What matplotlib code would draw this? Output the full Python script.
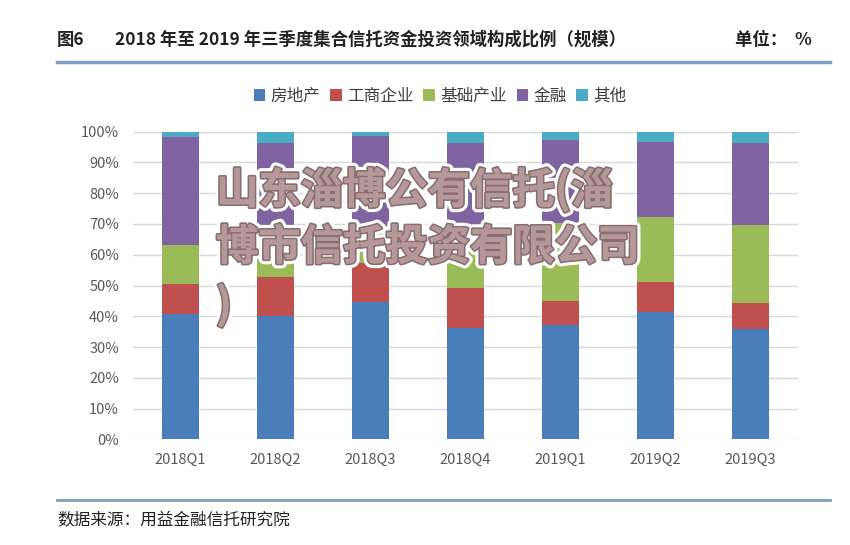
import matplotlib.pyplot as plt
import matplotlib.patheffects as pe
import numpy as np

plt.rcParams['font.family'] = ['Noto Sans CJK SC', 'DejaVu Sans']

quarters = ['2018Q1', '2018Q2', '2018Q3', '2018Q4', '2019Q1', '2019Q2', '2019Q3']
fangdichan = [40.6, 40.2, 44.7, 36.1, 37.2, 41.5, 35.8]
gongshang = [9.8, 12.7, 12.5, 13.2, 7.8, 9.5, 8.4]
jichu = [12.8, 9.4, 12.2, 18.2, 25.4, 21.4, 25.5]
jinrong = [35.2, 33.9, 29.2, 28.7, 26.9, 24.4, 26.7]
qita = [1.6, 3.8, 1.4, 3.8, 2.7, 3.2, 3.6]

series = [('房地产', fangdichan, '#4a7ebb'),
          ('工商企业', gongshang, '#c0504d'),
          ('基础产业', jichu, '#9bbb59'),
          ('金融', jinrong, '#8064a2'),
          ('其他', qita, '#4bacc6')]

W, H = 850, 545
fig = plt.figure(figsize=(8.5, 5.45), dpi=100)
ax = fig.add_axes([133 / W, (H - 439.3) / H, (798 - 133) / W, (439.3 - 131.7) / H])

x = np.arange(len(quarters))
bottom = np.zeros(len(quarters))
for name, vals, col in series:
    ax.bar(x, vals, 0.39, bottom=bottom, color=col, label=name, zorder=3)
    bottom += np.array(vals)

ax.set_xlim(-0.5, len(quarters) - 0.5)
ax.set_ylim(0, 100)
ax.set_yticks(np.arange(0, 101, 10))
ax.set_yticklabels([f'{v}%' for v in range(0, 101, 10)])
ax.set_xticks(x)
ax.set_xticklabels(quarters)
ax.tick_params(axis='both', length=0, colors='#595959', labelsize=10.5)
ax.tick_params(axis='x', pad=10)
ax.tick_params(axis='y', pad=10)
ax.grid(axis='y', color='#d9d9d9', linewidth=1, zorder=0)
for s in ax.spines.values():
    s.set_visible(False)

leg = fig.legend(loc='center', bbox_to_anchor=(440 / W, 1 - 96 / H), ncol=5, frameon=False,
                 handlelength=0.7, handleheight=0.7, handletextpad=0.3, columnspacing=0.6,
                 prop={'size': 12})
for t in leg.get_texts():
    t.set_color('#404040')

# header and footer
fig.text(57 / W, 1 - 40 / H, '图6', fontsize=12.5, fontweight='bold', va='center', color='#222222')
fig.text(115 / W, 1 - 40 / H, '2018 年至 2019 年三季度集合信托资金投资领域构成比例（规模）',
         fontsize=12.5, fontweight='bold', va='center', color='#222222')
fig.text(812 / W, 1 - 40 / H, '单位：  %', fontsize=12.5, fontweight='bold', va='center', ha='right',
         color='#222222')
fig.add_artist(plt.Line2D([57 / W, 830 / W], [1 - 62 / H, 1 - 62 / H], color='#7f9fc0', linewidth=2.5))
fig.add_artist(plt.Line2D([57 / W, 830 / W], [1 - 500 / H, 1 - 500 / H], color='#7f9fc0', linewidth=2))
fig.text(57 / W, 1 - 520 / H, '数据来源：用益金融信托研究院', fontsize=12, va='center', color='#222222')

# watermark
wm = ['山东淄博公有信托(淄', '博市信托投资有限公司', ')']
for i, line in enumerate(wm):
    fig.text(216 / W, 1 - (190 + 58 * i) / H, line, fontsize=30.5, fontweight='bold', va='center',
             color='#b59899',
             path_effects=[pe.withStroke(linewidth=7, foreground='white'),
                           pe.withStroke(linewidth=2.5, foreground='#8a6e70'),
                           pe.Normal()])

fig.savefig('out.png', dpi=100, facecolor='white')
